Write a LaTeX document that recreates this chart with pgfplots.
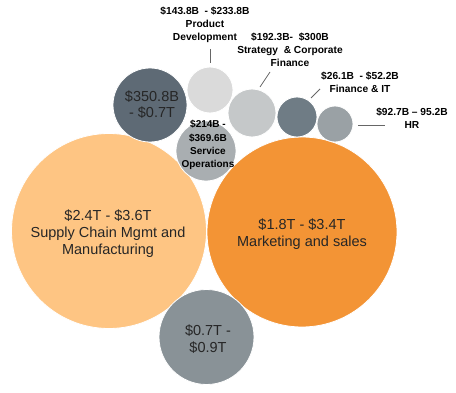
\documentclass[border=0pt]{standalone}
\usepackage{pgfplots}
\pgfplotsset{compat=1.18}
\usepackage{fontspec}
\setmainfont{Liberation Sans}
\definecolor{cSupply}{HTML}{FEC583}
\definecolor{cMkt}{HTML}{F39435}
\definecolor{cDark}{HTML}{5E6A75}
\definecolor{cBottom}{HTML}{899297}
\definecolor{cService}{HTML}{A9AEB1}
\definecolor{cProd}{HTML}{DADADA}
\definecolor{cStrat}{HTML}{C5C8C9}
\definecolor{cFin}{HTML}{6F7C85}
\definecolor{cHR}{HTML}{9AA1A5}
\definecolor{cTxt}{HTML}{262626}
\begin{document}
\begin{tikzpicture}
\begin{axis}[
  set layers,
  scale only axis, width=456pt, height=392pt,
  xmin=0, xmax=456, ymin=0, ymax=392, y dir=reverse,
  hide axis, clip=false,
  every axis plot/.append style={only marks, mark=*, line width=0.8pt},
]
% big circles first
\addplot[mark size=97.5pt, mark options={fill=cSupply, draw=white}] coordinates {(109,231)};
\addplot[mark size=95pt, mark options={fill=cMkt, draw=white}] coordinates {(302,232)};
\addplot[mark size=47.5pt, mark options={fill=cBottom, draw=white}] coordinates {(206.5,337)};
\addplot[mark size=37pt, mark options={fill=cDark, draw=white}] coordinates {(150,105)};
\addplot[mark size=23pt, mark options={fill=cProd, draw=white}] coordinates {(210,90)};
\addplot[mark size=24pt, mark options={fill=cStrat, draw=white}] coordinates {(252,113)};
\addplot[mark size=20pt, mark options={fill=cFin, draw=white}] coordinates {(297,117)};
\addplot[mark size=18pt, mark options={fill=cHR, draw=white}] coordinates {(335,124)};
\addplot[mark size=30pt, mark options={fill=cService, draw=white}] coordinates {(206,151)};

\begin{pgfonlayer}{axis foreground}
\path (axis cs:0,0) rectangle (axis cs:456,392);
% labels inside circles
\node[align=center, text=cTxt, font=\fontsize{14.5}{17}\selectfont] at (axis cs:108,234) {\$2.4T - \$3.6T\\Supply Chain Mgmt and\\Manufacturing};
\node[align=center, text=cTxt, font=\fontsize{14.5}{17}\selectfont] at (axis cs:302,234) {\$1.8T - \$3.4T\\Marketing and sales};
\node[align=center, text=cTxt, font=\fontsize{14.5}{17}\selectfont] at (axis cs:208,339) {\$0.7T -\\\$0.9T};
\node[align=center, text=cTxt, font=\fontsize{14.5}{16}\selectfont] at (axis cs:152,105) {\$350.8B\\- \$0.7T};
\node[align=center, text=black, font=\fontsize{10}{13.3}\selectfont\bfseries] at (axis cs:208,145) {\$214B -\\\$369.6B\\Service\\Operations};

% external labels
\node[align=center, text=black, font=\fontsize{10.2}{13}\selectfont\bfseries] at (axis cs:205,25) {\$143.8B\ \ - \$233.8B\\Product\\Development};
\draw[gray!80!black, line width=0.8pt] (axis cs:210,49) -- (axis cs:210,63);
\node[align=center, text=black, font=\fontsize{10.2}{13}\selectfont\bfseries] at (axis cs:290,50) {\$192.3B-\ \ \$300B\\Strategy\ \ \& Corporate\\Finance};
\draw[gray!80!black, line width=0.8pt] (axis cs:270,72) -- (axis cs:260,87);
\node[align=center, text=black, font=\fontsize{10.2}{13}\selectfont\bfseries] at (axis cs:360,82.5) {\$26.1B\ \ - \$52.2B\\Finance \& IT};
\draw[gray!80!black, line width=0.8pt] (axis cs:320,89) -- (axis cs:311,98);
\node[align=center, text=black, font=\fontsize{10.2}{13}\selectfont\bfseries] at (axis cs:412,118.5) {\$92.7B -- 95.2B\\HR};
\draw[gray!80!black, line width=0.8pt] (axis cs:358,125) -- (axis cs:385,125);
\end{pgfonlayer}
\end{axis}
\end{tikzpicture}
\end{document}
